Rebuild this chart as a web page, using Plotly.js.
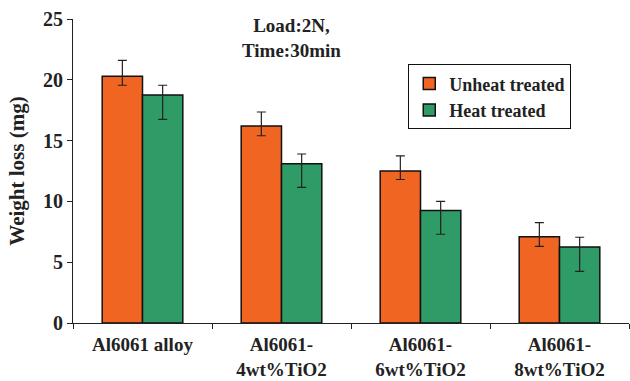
<!DOCTYPE html>
<html>
<head>
<meta charset="utf-8">
<script src="https://cdn.plot.ly/plotly-3.0.1.min.js"></script>
<style>html,body{margin:0;padding:0;background:#fff;}#chart{width:630px;height:381px;}</style>
</head>
<body>
<div id="chart"></div>
<script>
const categories = ["Al6061 alloy", "Al6061-<br>4wt%TiO2", "Al6061-<br>6wt%TiO2", "Al6061-<br>8wt%TiO2"];
const unheatValues = [20.3, 16.2, 12.5, 7.1];
const unheatErrPlus = [1.3, 1.15, 1.25, 1.15];
const unheatErrMinus = [0.75, 0.8, 0.7, 0.8];
const heatValues = [18.75, 13.1, 9.25, 6.25];
const heatErrPlus = [0.8, 0.8, 0.75, 0.8];
const heatErrMinus = [2.0, 1.95, 1.95, 2.0];
const yTicks = [0, 5, 10, 15, 20, 25];

const fam = "Liberation Serif, Times New Roman, serif";
const mk = (size) => ({family: fam, size: size, color: "#222", weight: "bold"});

const traces = [
  {
    type: "bar", name: "Unheat treated", x: categories, y: unheatValues,
    marker: {color: "#F06522", line: {color: "#111", width: 1.5}},
    error_y: {type: "data", symmetric: false, array: unheatErrPlus, arrayminus: unheatErrMinus,
              color: "#222", thickness: 1.2, width: 4.5}
  },
  {
    type: "bar", name: "Heat treated", x: categories, y: heatValues,
    marker: {color: "#2F9B66", line: {color: "#111", width: 1.5}},
    error_y: {type: "data", symmetric: false, array: heatErrPlus, arrayminus: heatErrMinus,
              color: "#222", thickness: 1.2, width: 4.5}
  }
];

const layout = {
  width: 630, height: 381,
  margin: {l: 73, r: 1, t: 19, b: 58},
  paper_bgcolor: "#fff", plot_bgcolor: "#fff",
  barmode: "group", bargap: 0.42, bargroupgap: 0,
  font: mk(18),
  showlegend: true,
  legend: {
    x: 0.603, y: 0.851, xanchor: "left", yanchor: "top",
    bordercolor: "#111", borderwidth: 1, bgcolor: "#fff",
    font: mk(18), tracegroupgap: 0, itemwidth: 30
  },
  xaxis: {
    type: "category", range: [-0.5, 3.5],
    showline: true, linecolor: "#222", linewidth: 1,
    ticks: "outside", tickson: "boundaries", ticklen: 5, tickcolor: "#222",
    showgrid: false, zeroline: false, tickfont: mk(19), ticklabelstandoff: 4
  },
  yaxis: {
    range: [0, 25], tickvals: yTicks, ticktext: yTicks.map(String),
    showline: true, linecolor: "#222", linewidth: 1,
    ticks: "outside", ticklen: 5, tickcolor: "#222",
    showgrid: false, zeroline: false, tickfont: mk(20),
    title: {text: "Weight loss (mg)", font: mk(21), standoff: 12}
  },
  annotations: [{
    xref: "paper", yref: "paper", x: 0.393, y: 1.02, xanchor: "center", yanchor: "top",
    text: "Load:2N,<br>Time:30min", showarrow: false, align: "center", font: mk(19)
  }]
};

Plotly.newPlot("chart", traces, layout, {displayModeBar: false, staticPlot: true});
</script>
</body>
</html>
